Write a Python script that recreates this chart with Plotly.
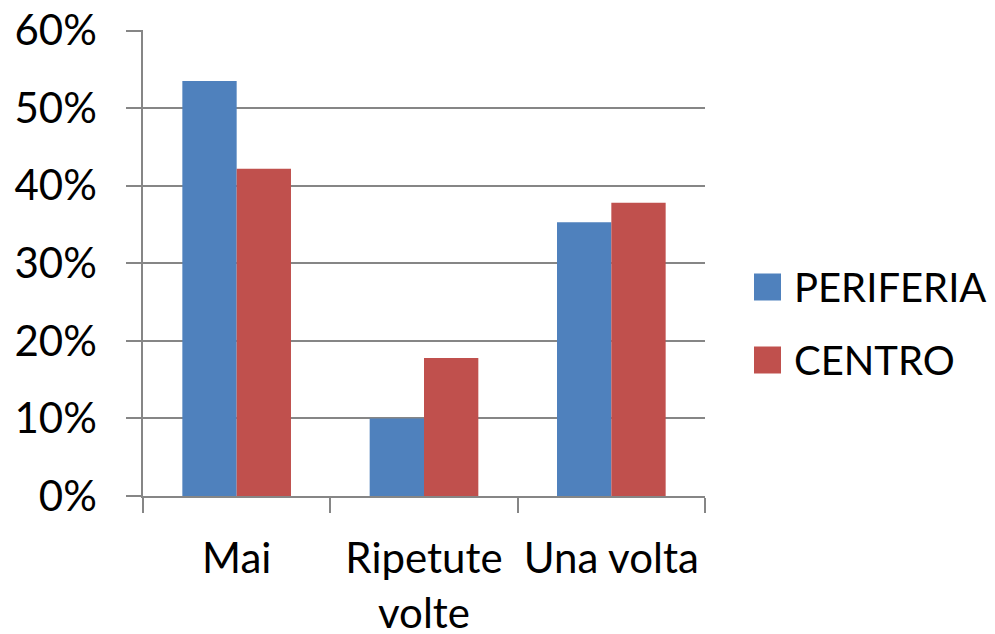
import plotly.graph_objects as go

categories = ["Mai", "Ripetute<br>volte", "Una volta"]
periferia = [0.535, 0.100, 0.353]
centro = [0.422, 0.178, 0.378]
series_names = ["PERIFERIA", "CENTRO"]
colors = ["#4F81BD", "#C0504D"]

FONT = "Lato"
GRID = "#868686"

# page body has an 8px margin, so the figure is sized/placed to compensate
W, H = 987, 626
L, T, R, B = 135, 22, 290, 138
PW, PH = W - L - R, H - T - B

fig = go.Figure()
for name, vals, col in zip(series_names, [periferia, centro], colors):
    fig.add_trace(go.Bar(name=name, x=categories, y=vals, marker_color=col,
                         marker_line_width=0, showlegend=False))

# custom legend (large square swatches like the original), screen px -> paper
leg_y = [287, 360]
for name, col, yc in zip(series_names, colors, leg_y):
    fig.add_shape(type="rect", xref="paper", yref="paper",
                  x0=(754 - 143) / PW, x1=(781 - 143) / PW,
                  y0=(496 - yc - 13.5) / PH, y1=(496 - yc + 13.5) / PH,
                  fillcolor=col, line_width=0)
    fig.add_annotation(text=name, xref="paper", yref="paper",
                       x=(792 - 143) / PW, y=(496 - yc) / PH,
                       xanchor="left", yanchor="middle", showarrow=False,
                       font=dict(family=FONT, size=40, color="black"))

fig.update_layout(
    width=W, height=H,
    margin=dict(l=L, r=R, t=T, b=B, autoexpand=False),
    paper_bgcolor="white", plot_bgcolor="white",
    barmode="group", bargap=0.42, bargroupgap=0,
    font=dict(family=FONT, size=40, color="black"),
)
fig.update_yaxes(range=[0, 0.6008], dtick=0.1, tickformat=".0%",
                 showgrid=True, gridcolor=GRID, gridwidth=1.5,
                 showline=True, linecolor=GRID, linewidth=1.5,
                 ticks="outside", ticklen=15, tickcolor=GRID, tickwidth=1.5,
                 ticklabelstandoff=21, zeroline=False, automargin=False,
                 ticklabeloverflow="allow",
                 tickfont=dict(family=FONT, size=42, color="black"))
fig.update_xaxes(showline=True, linecolor=GRID, linewidth=1.5,
                 ticks="outside", tickson="boundaries", ticklen=15,
                 tickcolor=GRID, tickwidth=1.5, showgrid=False,
                 tickangle=0,
                 ticklabelstandoff=25, automargin=False,
                 ticklabeloverflow="allow",
                 tickfont=dict(family=FONT, size=42, color="black"))

fig.write_html("out.html")
